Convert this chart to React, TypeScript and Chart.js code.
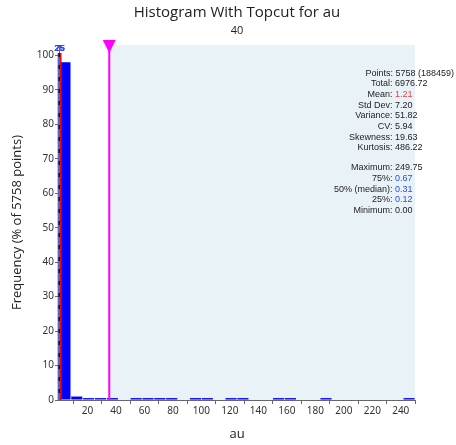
import React, { useEffect, useRef } from 'react';
import { Chart, registerables } from 'chart.js';

Chart.register(...registerables);

// Histogram bins (centres of 30 bins over 0..250, width 8.33)
const binCenters = [
  4.17, 12.5, 20.83, 29.17, 37.5, 45.83, 54.17, 62.5, 70.83, 79.17,
  87.5, 95.83, 104.17, 112.5, 120.83, 129.17, 137.5, 145.83, 154.17, 162.5,
  170.83, 179.17, 187.5, 195.83, 204.17, 212.5, 220.83, 229.17, 237.5, 245.83,
];
// Frequency (% of points)
const frequencies = [
  98.0, 1.0, 0.55, 0.55, 0.55, 0, 0.55, 0.55, 0.55, 0.55,
  0, 0.55, 0.55, 0, 0.55, 0.55, 0, 0, 0.55, 0.55,
  0, 0, 0.55, 0, 0, 0, 0, 0, 0, 0.55,
];
const xTickValues = [20, 40, 60, 80, 100, 120, 140, 160, 180, 200, 220, 240];
const yTickValues = [0, 10, 20, 30, 40, 50, 60, 70, 80, 90, 100];

const meanValue = 1.21;
const medianValue = 0.31;
const q25Value = 0.12;
const q75Value = 0.67;
const topcutValue = 35.3;

const statLabelsA = ['Total:', 'Mean:', 'Std Dev:', 'Variance:', 'CV:', 'Skewness:', 'Kurtosis:'];
const statValuesA = ['6976.72', '1.21', '7.20', '51.82', '5.94', '19.63', '486.22'];
const statLabelsB = ['Maximum:', '75%:', '50% (median):', '25%:', 'Minimum:'];
const statValuesB = ['249.75', '0.67', '0.31', '0.12', '0.00'];
const pointsText = 'Points: 5758 (188459)';

const overlayPlugin = {
  id: 'overlay',
  beforeDatasetsDraw(chart: any) {
    const { ctx, chartArea, scales } = chart;
    const x = scales.x.getPixelForValue(topcutValue);
    ctx.save();
    ctx.fillStyle = '#e9f3f7';
    ctx.fillRect(x, chartArea.top, chartArea.right - x, chartArea.bottom - chartArea.top);
    ctx.restore();
  },
  afterDatasetsDraw(chart: any) {
    const { ctx, chartArea, scales } = chart;
    const top = chartArea.top;
    const bottom = chartArea.bottom;
    const lineTop = top + 8;
    ctx.save();
    // quartile lines
    ctx.strokeStyle = '#3f6fd6';
    ctx.lineWidth = 1.5;
    [q25Value, q75Value].forEach((v) => {
      const px = scales.x.getPixelForValue(v);
      ctx.beginPath();
      ctx.moveTo(px - 0.8, lineTop);
      ctx.lineTo(px - 0.8, bottom);
      ctx.stroke();
    });
    // median dashed line
    ctx.strokeStyle = '#111';
    ctx.lineWidth = 2;
    ctx.setLineDash([4, 8]);
    const mx = scales.x.getPixelForValue(medianValue);
    ctx.beginPath();
    ctx.moveTo(mx, lineTop);
    ctx.lineTo(mx, bottom);
    ctx.stroke();
    ctx.setLineDash([]);
    // mean line
    ctx.strokeStyle = '#ff0000';
    ctx.lineWidth = 1.5;
    const meanX = scales.x.getPixelForValue(meanValue);
    ctx.beginPath();
    ctx.moveTo(meanX, lineTop);
    ctx.lineTo(meanX, bottom);
    ctx.stroke();
    // quartile labels
    ctx.fillStyle = '#3344ee';
    ctx.font = 'bold 9px "Liberation Sans", Arial, sans-serif';
    ctx.textAlign = 'center';
    ctx.textBaseline = 'middle';
    ctx.fillText('25', scales.x.getPixelForValue(q25Value), top + 4);
    ctx.fillText('75', scales.x.getPixelForValue(q75Value), top + 4);
    // topcut line
    const tx = scales.x.getPixelForValue(topcutValue);
    ctx.strokeStyle = '#ff00ff';
    ctx.lineWidth = 2;
    ctx.beginPath();
    ctx.moveTo(tx, top);
    ctx.lineTo(tx, bottom);
    ctx.stroke();
    ctx.fillStyle = '#ff00ff';
    ctx.beginPath();
    ctx.moveTo(tx - 6.5, top - 5);
    ctx.lineTo(tx + 6.5, top - 5);
    ctx.lineTo(tx, top + 8);
    ctx.closePath();
    ctx.fill();
    ctx.restore();
  },
  afterDraw(chart: any) {
    const { ctx } = chart;
    ctx.save();
    ctx.font = '9px "Liberation Sans", Arial, sans-serif';
    ctx.textBaseline = 'middle';
    const colonX = 392.5;
    const valX = 395;
    // points row
    ctx.fillStyle = '#222';
    ctx.textAlign = 'right';
    ctx.fillText(pointsText, 454, 73.3);
    statLabelsA.forEach((lab, i) => {
      const y = 83.9 + i * 10.65;
      ctx.fillStyle = '#222';
      ctx.textAlign = 'right';
      ctx.fillText(lab, colonX, y);
      ctx.textAlign = 'left';
      ctx.fillStyle = lab === 'Mean:' ? '#f03c3c' : '#222';
      ctx.fillText(statValuesA[i], valX, y);
    });
    statLabelsB.forEach((lab, i) => {
      const y = 167.7 + i * 10.75;
      ctx.fillStyle = '#222';
      ctx.textAlign = 'right';
      ctx.fillText(lab, colonX, y);
      ctx.textAlign = 'left';
      const blue = lab === '75%:' || lab === '25%:' || lab === '50% (median):';
      ctx.fillStyle = blue ? '#2850e6' : '#222';
      ctx.fillText(statValuesB[i], valX, y);
    });
    ctx.restore();
  },
};

export default function App() {
  const canvasRef = useRef<HTMLCanvasElement | null>(null);

  useEffect(() => {
    if (!canvasRef.current) return;
    const tickFont = { family: '"Noto Sans", sans-serif', size: 10 };
    const chart = new Chart(canvasRef.current, {
      type: 'bar',
      data: {
        datasets: [
          {
            data: binCenters.map((c, i) => ({ x: c, y: frequencies[i] })),
            backgroundColor: '#0000ff',
            borderWidth: 0,
            barPercentage: 0.94,
            categoryPercentage: 1,
          },
        ],
      },
      options: {
        animation: false,
        responsive: false,
        layout: { padding: { left: 0, right: 41, top: 0, bottom: 0 } },
        plugins: {
          legend: { display: false },
          tooltip: { enabled: false },
          title: {
            display: true,
            fullSize: false,
            text: 'Histogram With Topcut for au',
            color: '#222',
            font: { family: '"Open Sans", sans-serif', size: 15, weight: 'normal' },
            padding: { top: 4, bottom: 2 },
          },
          subtitle: {
            display: true,
            fullSize: false,
            text: '40',
            color: '#222',
            font: { family: '"Open Sans", sans-serif', size: 11 },
            padding: { top: 0, bottom: 7.8 },
          },
        },
        scales: {
          x: {
            type: 'linear',
            min: 0,
            max: 250,
            offset: false,
            afterBuildTicks: (s: any) => {
              s.ticks = xTickValues.map((v) => ({ value: v }));
            },
            afterFit: (s: any) => {
              s.height = 45;
            },
            ticks: { font: tickFont, color: '#333', padding: 1, maxRotation: 0, autoSkip: false },
            grid: { display: true, drawOnChartArea: false, drawTicks: true, tickLength: 4, color: '#666' },
            border: { display: true, color: '#666' },
            title: {
              display: true,
              text: 'au',
              color: '#222',
              font: { family: '"Open Sans", sans-serif', size: 13 },
              padding: { top: 0, bottom: 3.2 },
            },
          },
          y: {
            type: 'linear',
            min: 0,
            max: 103,
            afterBuildTicks: (s: any) => {
              s.ticks = yTickValues.map((v) => ({ value: v }));
            },
            afterFit: (s: any) => {
              s.width = 59;
            },
            ticks: { font: tickFont, color: '#333', padding: 1, autoSkip: false },
            grid: { display: true, drawOnChartArea: false, drawTicks: true, tickLength: 4, color: '#666' },
            border: { display: true, color: '#666' },
            title: {
              display: true,
              text: 'Frequency (% of 5758 points)',
              color: '#222',
              font: { family: '"Open Sans", sans-serif', size: 13 },
              padding: { top: 9.2, bottom: 0 },
            },
          },
        },
      },
      plugins: [overlayPlugin],
    } as any);
    return () => chart.destroy();
  }, []);

  return (
    <div style={{ position: 'fixed', left: 0, top: 0, width: 456, height: 445, background: '#fff' }}>
      <canvas ref={canvasRef} width={456} height={445} style={{ display: 'block' }} />
    </div>
  );
}
